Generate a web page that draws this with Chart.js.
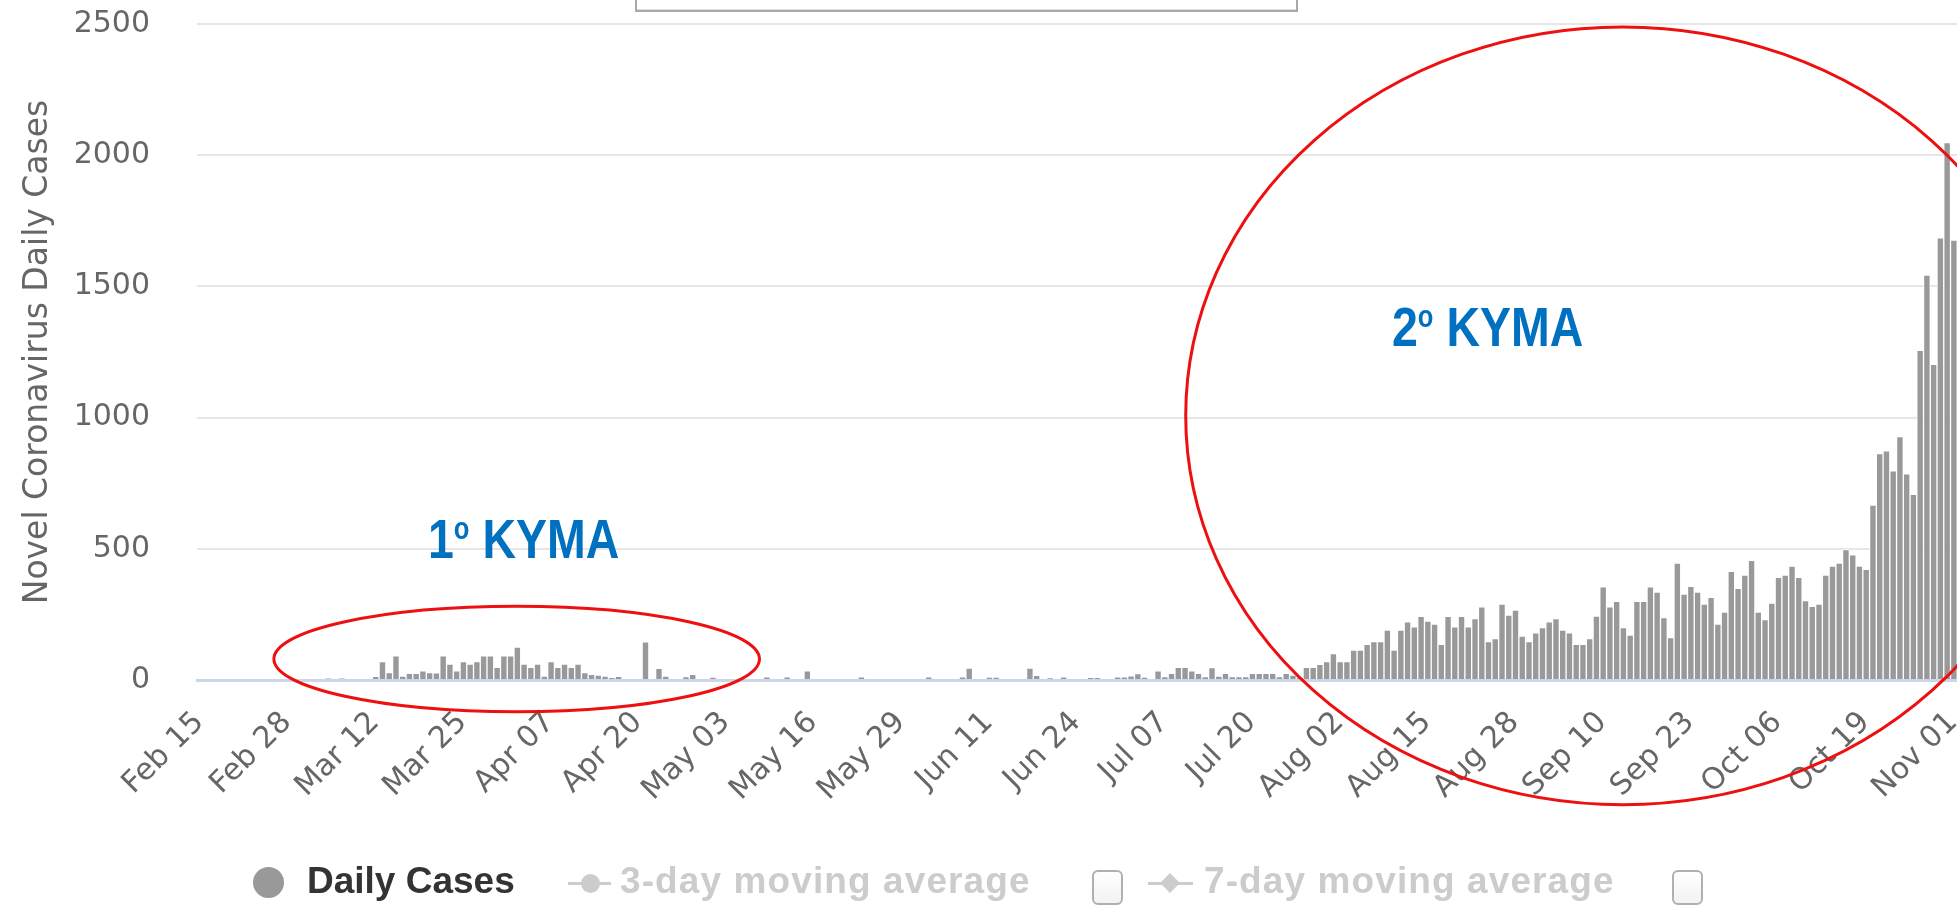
<!DOCTYPE html>
<html>
<head>
<meta charset="utf-8">
<title>Daily Cases</title>
<script src="https://cdn.jsdelivr.net/npm/chart.js@4.4.0/dist/chart.umd.min.js"></script>
<style>
  html, body { margin: 0; padding: 0; background: #fff; overflow: hidden; width: 1957px; height: 906px; }
  #wrap { position: relative; width: 1964px; height: 906px; }
  #chart { position: absolute; left: 0; top: 0; }
  .wave { position: absolute; color: #0070c0; font-family: "Liberation Sans", Arial, sans-serif;
          font-weight: bold; font-size: 56px; line-height: 1; white-space: nowrap;
          transform: scaleX(0.83); transform-origin: left top; }
  .wave sup { font-size: 0.55em; vertical-align: 0.62em; line-height: 0; }
  #topbox { position: absolute; left: 635px; top: -30px; width: 659px; height: 38px; border: 2px solid #a9a9a9; box-shadow: inset 0 -1px 0 #ddd; }
  .lg { position: absolute; top: 862px; font-family: "Liberation Sans", Arial, sans-serif; font-weight: bold; font-size: 37px; line-height: 37px; white-space: nowrap; }
  .lg.on { color: #333; }
  .lg.off { color: #ccc; letter-spacing: 1.1px; }
  .dot { position: absolute; border-radius: 50%; }
  .bar { position: absolute; height: 3px; background: #ccc; }
  .diamond { position: absolute; width: 14px; height: 14px; background: #ccc; transform: rotate(45deg); }
  .box { position: absolute; top: 870px; width: 27px; height: 31px; border: 2px solid #b0b0b0; border-radius: 6px; background: linear-gradient(#fff, #f2f2f2); }
</style>
</head>
<body>
<div id="wrap">
  <canvas id="chart" width="1964" height="906"></canvas>
  <div id="topbox"></div>
  <div class="wave" style="left:428px; top:511px;">1<sup>ο</sup> ΚΥΜΑ</div>
  <div class="wave" style="left:1392px; top:299px;">2<sup>ο</sup> ΚΥΜΑ</div>

  <div class="dot" style="left:253px; top:867px; width:31px; height:31px; background:#999;"></div>
  <div class="lg on" style="left:307px;">Daily Cases</div>

  <div class="bar" style="left:568px; top:882px; width:43px;"></div>
  <div class="dot" style="left:581px; top:874px; width:19px; height:19px; background:#ccc;"></div>
  <div class="lg off" style="left:620px;">3-day moving average</div>
  <div class="box" style="left:1092px;"></div>

  <div class="bar" style="left:1148px; top:882px; width:45px;"></div>
  <div class="diamond" style="left:1163px; top:876px;"></div>
  <div class="lg off" style="left:1204px;">7-day moving average</div>
  <div class="box" style="left:1672px;"></div>
</div>
<script>
  // ===== data: daily new cases, Feb 15 -> Nov 02 =====
  const casesFeb = [0,0,0,0,0,0,0,0,0,0,0,0,0,0,0];
  const casesMar = [0,0,0,0,6,0,6,0,0,0,0,14,70,28,92,15,25,25,35,28,27,92,61,35,70,61,70,92,92,48,92];
  const casesApr = [92,125,61,48,61,15,70,48,61,48,61,28,22,19,15,8,14,0,0,0,145,0,44,15,0,0,13,22,0,0];
  const casesMay = [10,0,0,0,0,0,0,0,12,0,0,12,0,0,35,0,0,0,0,0,0,0,12,0,0,0,0,0,0,0,0];
  const casesJun = [0,12,0,0,0,0,12,45,0,0,10,10,0,0,0,0,45,18,0,7,0,12,0,0,0,9,8,0,0,12];
  const casesJul = [12,16,24,10,0,35,13,25,48,48,35,25,13,47,15,25,13,13,13,25,25,25,25,13,25,19,10,48,48,60,70];
  const casesAug = [101,70,70,114,114,136,146,146,190,114,190,222,203,243,225,213,136,243,203,243,203,234,279,146,158,289,247,266,167,146,180];
  const casesSep = [200,222,234,190,180,136,136,158,244,355,279,300,200,171,300,300,355,335,238,162,446,327,357,335,289,315,213,259,414,349];
  const casesOct = [400,456,259,230,293,391,400,434,391,303,281,289,400,434,446,497,477,434,422,667,863,873,797,928,786,708,1256,1543,1203,1685,2048];
  const casesNov = [1677,1157];

  const dailyCases = [].concat(casesFeb, casesMar, casesApr, casesMay, casesJun, casesJul, casesAug, casesSep, casesOct, casesNov);

  // category per day
  const monthNames = ["Jan","Feb","Mar","Apr","May","Jun","Jul","Aug","Sep","Oct","Nov","Dec"];
  const days = [];
  for (let i = 0; i < dailyCases.length; i++) {
    const d = new Date(2020, 1, 15 + i);
    days.push(monthNames[d.getMonth()] + " " + String(d.getDate()).padStart(2, "0"));
  }

  const tickLabels = ["Feb 15","Feb 28","Mar 12","Mar 25","Apr 07","Apr 20","May 03","May 16","May 29","Jun 11","Jun 24",
                      "Jul 07","Jul 20","Aug 02","Aug 15","Aug 28","Sep 10","Sep 23","Oct 06","Oct 19","Nov 01"];
  const yTicks = [0, 500, 1000, 1500, 2000, 2500];

  // hand drawn rings, in data units (day index, cases)
  const waveRings = [
    { day: 46.9, cases: 80, halfDays: 36, halfCases: 201 },
    { day: 210.9, cases: 1007, halfDays: 64.8, halfCases: 1482 }
  ];

  const ringPlugin = {
    id: "rings",
    afterDatasetsDraw(chart) {
      const { ctx, scales: { x, y } } = chart;
      const step = x.getPixelForValue(1) - x.getPixelForValue(0);
      ctx.save();
      ctx.strokeStyle = "#ee1010";
      ctx.lineWidth = 3;
      waveRings.forEach(r => {
        const cx = x.getPixelForValue(0) + r.day * step;
        const cy = y.getPixelForValue(r.cases);
        const rx = r.halfDays * step;
        const ry = y.getPixelForValue(0) - y.getPixelForValue(r.halfCases);
        ctx.beginPath();
        ctx.ellipse(cx, cy, rx, ry, 0, 0, Math.PI * 2);
        ctx.stroke();
      });
      ctx.restore();
    }
  };

  const tickFont = { family: "DejaVu Sans", size: 30 };

  new Chart(document.getElementById("chart").getContext("2d"), {
    type: "bar",
    data: {
      labels: days,
      datasets: [{
        label: "Daily Cases",
        data: dailyCases,
        backgroundColor: "#999999",
        borderColor: "#ffffff",
        borderWidth: 1,
        borderSkipped: "start",
        categoryPercentage: 1,
        barPercentage: 1
      }]
    },
    options: {
      responsive: false,
      animation: false,
      devicePixelRatio: 1,
      layout: { padding: { top: 24, right: 0, bottom: 0, left: 0 } },
      plugins: { legend: { display: false }, tooltip: { enabled: false } },
      scales: {
        x: {
          grid: { display: true, color: "rgba(0,0,0,0)", drawTicks: false },
          border: { display: true, color: "#ccd6eb", width: 3 },
          ticks: {
            autoSkip: false,
            minRotation: 45,
            maxRotation: 45,
            padding: 25,
            labelOffset: -1,
            color: "#666666",
            font: tickFont,
            callback: (v, i) => tickLabels.includes(days[i]) ? days[i] : ""
          },
          afterFit: s => { s.height = 226; s.paddingLeft = 0; s.paddingRight = 0; }
        },
        y: {
          min: 0,
          max: 2500,
          afterBuildTicks: s => { s.ticks = yTicks.map(v => ({ value: v })); },
          grid: {
            color: c => (c.tick && c.tick.value === 0) ? "rgba(0,0,0,0)" : "#e6e6e6",
            lineWidth: 2,
            drawTicks: false
          },
          border: { display: false },
          ticks: { padding: 47, color: "#666666", font: tickFont, callback: v => String(v) },
          title: {
            display: true,
            text: "Novel Coronavirus Daily Cases",
            color: "#666666",
            font: { family: "DejaVu Sans", size: 33 },
            padding: { top: 19, bottom: 0 }
          },
          afterFit: s => { s.width = 197; s.paddingTop = 0; s.paddingBottom = 0; }
        }
      }
    },
    plugins: [ringPlugin]
  });
</script>
</body>
</html>
